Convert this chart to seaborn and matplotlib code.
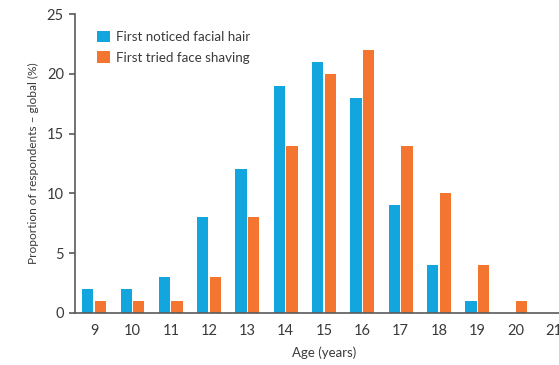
import matplotlib
matplotlib.use("Agg")
import matplotlib.pyplot as plt
import seaborn as sns
import pandas as pd
from matplotlib.patches import Patch

ages = ["9", "10", "11", "12", "13", "14", "15", "16", "17", "18", "19", "20", "21"]
noticed_facial_hair = [2, 2, 3, 8, 12, 19, 21, 18, 9, 4, 1, 0, 0]
tried_face_shaving = [1, 1, 1, 3, 8, 14, 20, 22, 14, 10, 4, 1, 0]
series_names = ["First noticed facial hair", "First tried face shaving"]
y_ticks = [0, 5, 10, 15, 20, 25]

BLUE = "#13A5DE"
ORANGE = "#F47530"
TEXT = "#3a3a3a"
AXIS = "#5a5a5a"

df = pd.DataFrame({
    "age": ages * 2,
    "value": noticed_facial_hair + tried_face_shaving,
    "series": [series_names[0]] * len(ages) + [series_names[1]] * len(ages),
})

sns.set_theme(style="white")
plt.rcParams["font.family"] = ["Lato", "DejaVu Sans"]

W, H = 559, 365
fig = plt.figure(figsize=(W / 100, H / 100), dpi=100)
left, right, top, bottom = 75, 573, 14, 313
ax = fig.add_axes([left / W, 1 - bottom / H, (right - left) / W, (bottom - top) / H])

sns.barplot(data=df, x="age", y="value", hue="series", order=ages,
            hue_order=series_names, palette=[BLUE, ORANGE],
            width=0.66, gap=0.11, linewidth=0, saturation=1,
            ax=ax, legend=False)

ax.set_xlim(-0.5, len(ages) - 0.5)
ax.set_ylim(0, 25)
ax.set_yticks(y_ticks)

# Category labels centred, ticks drawn at group boundaries
ax.set_xticks(range(len(ages)))
ax.set_xticklabels(ages)
ax.set_xticks([i - 0.5 for i in range(len(ages) + 1)], minor=True)
ax.tick_params(axis="x", which="major", length=0, pad=8, labelsize=10.5, labelcolor=TEXT)
ax.tick_params(axis="x", which="minor", length=4, width=1.2, color=AXIS, direction="out")
ax.tick_params(axis="y", which="major", length=4, width=1.2, color=AXIS, direction="out",
               labelsize=10.5, labelcolor=TEXT, pad=4, left=True)

for side in ("top", "right"):
    ax.spines[side].set_visible(False)
for side in ("left", "bottom"):
    ax.spines[side].set_color(AXIS)
    ax.spines[side].set_linewidth(1.2)

ax.set_xlabel("Age (years)", fontsize=9.5, color=TEXT)
ax.set_ylabel("Proportion of respondents \u2013 global (%)", fontsize=8.6, color=TEXT)
ax.xaxis.set_label_coords((324 - left) / (right - left), -(353 - bottom) / (bottom - top))
ax.xaxis.label.set_va("center")
ax.yaxis.set_label_coords(-(left - 33) / (right - left), 0.5)
ax.yaxis.label.set_va("center")

handles = [Patch(facecolor=BLUE, edgecolor="none"), Patch(facecolor=ORANGE, edgecolor="none")]
ax.legend(handles, series_names, loc="upper left", bbox_to_anchor=(0.034, 0.962),
          frameon=False, fontsize=9.6, handlelength=0.95, handleheight=0.95,
          handletextpad=0.45, labelspacing=0.62, borderaxespad=0, labelcolor=TEXT)

fig.savefig("out.png", dpi=100)
